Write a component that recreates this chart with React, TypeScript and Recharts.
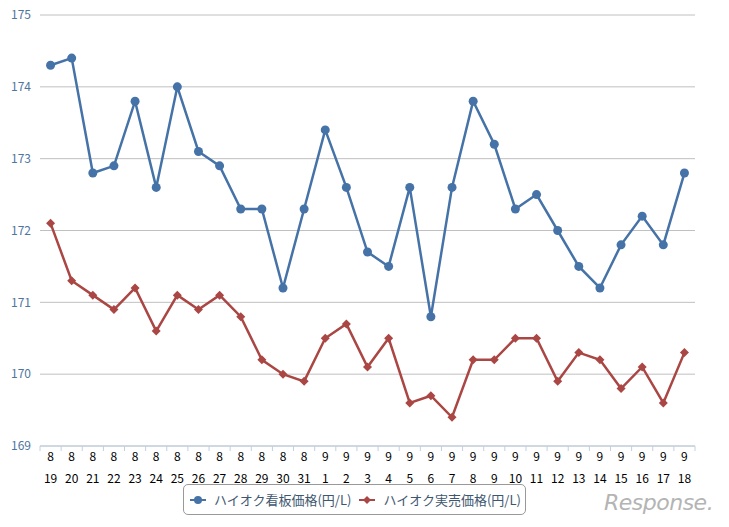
import { LineChart, Line, XAxis, YAxis, CartesianGrid, Legend } from "recharts";

// dates (month / day)
const months = [8, 8, 8, 8, 8, 8, 8, 8, 8, 8, 8, 8, 8, 9, 9, 9, 9, 9, 9, 9, 9, 9, 9, 9, 9, 9, 9, 9, 9, 9, 9];
const days = [19, 20, 21, 22, 23, 24, 25, 26, 27, 28, 29, 30, 31, 1, 2, 3, 4, 5, 6, 7, 8, 9, 10, 11, 12, 13, 14, 15, 16, 17, 18];

// ハイオク看板価格
const signPrice = [
  174.3, 174.4, 172.8, 172.9, 173.8, 172.6, 174.0, 173.1, 172.9, 172.3, 172.3, 171.2, 172.3,
  173.4, 172.6, 171.7, 171.5, 172.6, 170.8, 172.6, 173.8, 173.2, 172.3, 172.5, 172.0, 171.5,
  171.2, 171.8, 172.2, 171.8, 172.8,
];
// ハイオク実売価格
const actualPrice = [
  172.1, 171.3, 171.1, 170.9, 171.2, 170.6, 171.1, 170.9, 171.1, 170.8, 170.2, 170.0, 169.9,
  170.5, 170.7, 170.1, 170.5, 169.6, 169.7, 169.4, 170.2, 170.2, 170.5, 170.5, 169.9, 170.3,
  170.2, 169.8, 170.1, 169.6, 170.3,
];

const yTicks = [169, 170, 171, 172, 173, 174, 175];

const seriesNames = ["ハイオク看板価格(円/L)", "ハイオク実売価格(円/L)"];

const data = days.map((d, i) => ({
  label: `${months[i]}/${d}`,
  month: months[i],
  day: d,
  sign: signPrice[i],
  actual: actualPrice[i],
}));

const BLUE = "#4572A7";
const RED = "#AA4643";
const FONT = "'Noto Sans CJK JP', 'Noto Sans', sans-serif";

const WIDTH = 729;
const HEIGHT = 527;
const MARGIN = { top: 15, right: 34, bottom: 41, left: 0 };
const Y_WIDTH = 40;
const HALF_BAND = (WIDTH - MARGIN.right - Y_WIDTH) / data.length / 2;

function DateTick(props: any) {
  const { x, y, payload, index } = props;
  const item = data[index] ?? data.find((d) => d.label === payload.value);
  return (
    <g>
      <line x1={x - HALF_BAND} x2={x - HALF_BAND} y1={y} y2={y + 5} stroke="#C0D0E0" />
      {index === data.length - 1 && (
        <line x1={x + HALF_BAND} x2={x + HALF_BAND} y1={y} y2={y + 5} stroke="#C0D0E0" />
      )}
      <text x={x} y={y + 15} textAnchor="middle" fontSize={12} fill="#000" fontFamily={FONT}>
        {item?.month}
      </text>
      <text x={x} y={y + 37} textAnchor="middle" fontSize={12} fill="#000" fontFamily={FONT}>
        {item?.day}
      </text>
    </g>
  );
}

function Diamond(props: any) {
  const { cx, cy } = props;
  if (cx == null || cy == null) return null;
  const r = 4.5;
  return (
    <polygon
      points={`${cx},${cy - r} ${cx + r},${cy} ${cx},${cy + r} ${cx - r},${cy}`}
      fill={RED}
    />
  );
}

function LegendBox() {
  const items = [
    { name: seriesNames[0], color: BLUE, shape: "circle" },
    { name: seriesNames[1], color: RED, shape: "diamond" },
  ];
  return (
    <div
      style={{
        display: "flex",
        alignItems: "center",
        gap: 8,
        border: "1px solid #999",
        borderRadius: 5,
        padding: "0 8px 0 6px",
        boxSizing: "border-box",
        width: 343,
        height: 31,
        fontFamily: FONT,
        fontSize: 13,
        color: "#3E576F",
        background: "#fff",
        whiteSpace: "nowrap",
      }}
    >
      {items.map((it) => (
        <div key={it.name} style={{ display: "flex", alignItems: "center", gap: 8 }}>
          <svg width={16} height={12}>
            <line x1={0} x2={16} y1={6} y2={6} stroke={it.color} strokeWidth={2} />
            {it.shape === "circle" ? (
              <circle cx={8} cy={6} r={4} fill={it.color} />
            ) : (
              <polygon points="8,2 12,6 8,10 4,6" fill={it.color} />
            )}
          </svg>
          <span>{it.name}</span>
        </div>
      ))}
    </div>
  );
}

export default function App() {
  return (
    <div style={{ position: "absolute", left: 0, top: 0, width: WIDTH, height: HEIGHT, background: "#fff" }}>
      <LineChart width={WIDTH} height={HEIGHT} data={data} margin={MARGIN}>
        <CartesianGrid horizontal vertical={false} stroke="#C0C0C0" />
        <XAxis
          dataKey="label"
          interval={0}
          padding={{ left: HALF_BAND, right: HALF_BAND }}
          axisLine={{ stroke: "#C0D0E0" }}
          tickLine={false}
          tickSize={0}
          tickMargin={0}
          height={40}
          tick={DateTick}
        />
        <YAxis
          domain={[169, 175]}
          ticks={yTicks}
          width={Y_WIDTH}
          axisLine={false}
          tickLine={false}
          tickSize={0}
          tickMargin={9}
          tick={{ fill: "#4d759e", fontSize: 12, fontFamily: FONT }}
        />
        <Legend
          layout="horizontal"
          verticalAlign="middle"
          align="center"
          content={<LegendBox />}
          wrapperStyle={{ top: 484, left: 183, width: "auto" }}
        />
        <Line
          dataKey="sign"
          name={seriesNames[0]}
          stroke={BLUE}
          strokeWidth={2.5}
          dot={{ r: 4.5, fill: BLUE, stroke: BLUE, strokeWidth: 0 }}
          activeDot={false}
          isAnimationActive={false}
        />
        <Line
          dataKey="actual"
          name={seriesNames[1]}
          stroke={RED}
          strokeWidth={2.5}
          dot={<Diamond />}
          activeDot={false}
          isAnimationActive={false}
        />
      </LineChart>
      <div
        style={{
          position: "absolute",
          left: 604,
          top: 490,
          fontFamily: "'DejaVu Sans', sans-serif",
          fontSize: 22,
          fontStyle: "italic",
          color: "#b4b4b4",
          letterSpacing: -0.5,
        }}
      >
        Response.
      </div>
    </div>
  );
}
